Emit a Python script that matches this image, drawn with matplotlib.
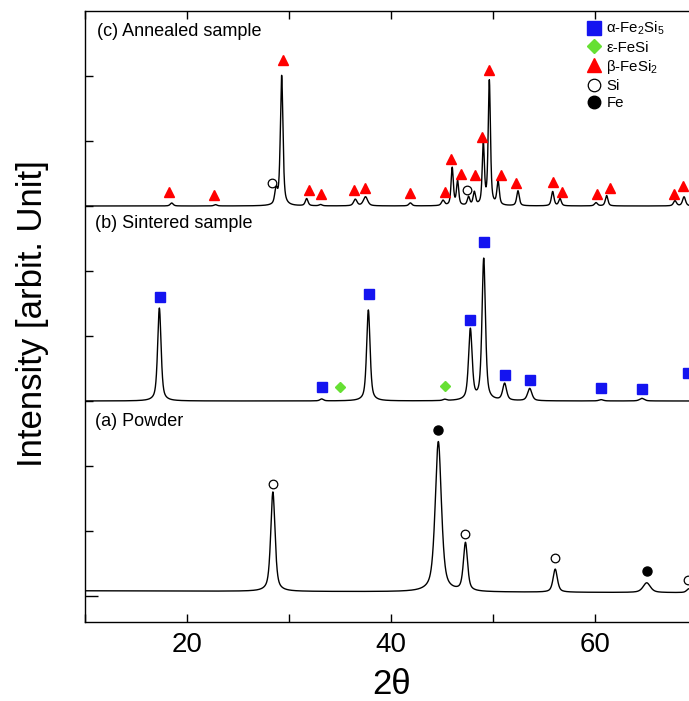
import numpy as np
import matplotlib
matplotlib.use("Agg")
import matplotlib.pyplot as plt
from matplotlib.lines import Line2D

plt.rcParams['font.family'] = ['Liberation Sans', 'DejaVu Sans']
plt.rcParams['mathtext.fontset'] = 'custom'
plt.rcParams['mathtext.rm'] = 'Liberation Sans'
plt.rcParams['mathtext.it'] = 'Liberation Sans'

# ---------------- data (peak tables) ----------------
# (a) Powder
powder_pos = [28.42, 44.64, 47.30, 56.10, 65.07, 69.20]
powder_h = [1.53, 2.31, 0.74, 0.355, 0.15, 0.06]
powder_w = [0.50, 0.72, 0.48, 0.50, 0.85, 0.50]
powder_base = [0.08, 0.05]          # baseline level at left / right
powder_offset = 0.0

# (b) Sintered sample
sint_pos = [17.29, 33.20, 37.78, 45.26, 47.78, 49.09, 51.14, 53.60, 60.60, 64.60]
sint_h = [1.43, 0.03, 1.40, 0.02, 1.09, 2.18, 0.26, 0.19, 0.02, 0.04]
sint_w = [0.40, 0.40, 0.40, 0.40, 0.42, 0.40, 0.45, 0.50, 0.50, 0.55]
sint_offset = 3.0

# (c) Annealed sample
ann_pos = [18.50, 22.80, 28.73, 29.28, 31.73, 33.10, 36.50, 37.50, 41.90, 45.10,
           46.00, 46.53, 47.60, 48.17, 49.05, 49.64, 50.50, 52.45, 55.85, 56.57,
           60.10, 61.14, 67.84, 68.73]
ann_h = [0.046, 0.02, 0.235, 2.00, 0.11, 0.02, 0.10, 0.14, 0.046, 0.08,
         0.58, 0.37, 0.13, 0.20, 0.94, 1.91, 0.36, 0.23, 0.22, 0.11,
         0.05, 0.16, 0.08, 0.14]
ann_w = [0.35, 0.35, 0.30, 0.30, 0.32, 0.35, 0.40, 0.50, 0.35, 0.35,
         0.26, 0.26, 0.28, 0.28, 0.25, 0.26, 0.28, 0.30, 0.30, 0.30,
         0.35, 0.30, 0.35, 0.35]
ann_offset = 6.0

# phase markers (2theta, intensity level)
fe2si5_x = [17.35, 33.2, 37.8, 47.78, 49.09, 51.14, 53.6, 60.6, 64.6, 69.1]
fe2si5_y = [4.60, 3.22, 4.64, 4.25, 5.44, 3.40, 3.32, 3.20, 3.19, 3.43]
fesi_x = [35.0, 45.26]
fesi_y = [3.215, 3.23]
fesi2_x = [18.24, 22.62, 29.37, 31.96, 33.1, 36.37, 37.48, 41.9, 45.26, 45.9,
           46.83, 48.2, 48.92, 49.6, 50.75, 52.28, 55.9, 56.8, 60.16, 61.47,
           67.75, 68.66]
fesi2_y = [6.22, 6.17, 8.24, 6.24, 6.18, 6.24, 6.28, 6.20, 6.22, 6.73,
           6.49, 6.47, 7.06, 8.09, 6.48, 6.35, 6.37, 6.21, 6.18, 6.28,
           6.18, 6.31]
si_x = [28.36, 47.5, 28.4, 47.3, 56.1, 69.1]
si_y = [6.36, 6.25, 1.72, 0.95, 0.59, 0.25]
fe_x = [44.6, 65.07]
fe_y = [2.55, 0.385]

labels = ['α-Fe$_2$Si$_5$', 'ε-FeSi', 'β-FeSi$_2$', 'Si', 'Fe']
panel_titles = ['(c) Annealed sample', '(b) Sintered sample', '(a) Powder']

x_ticks_major = [20, 40, 60]
x_ticks_minor = [10, 30, 50, 70]

# ---------------- helpers ----------------
tt = np.linspace(10, 70, 6001)


def profile(pos, h, w, eta=0.6):
    y = np.zeros_like(tt)
    for p, a, fw in zip(pos, h, w):
        hw = fw / 2.0
        lor = 1.0 / (1.0 + ((tt - p) / hw) ** 2)
        gau = np.exp(-np.log(2) * ((tt - p) / hw) ** 2)
        y += a * (eta * lor + (1 - eta) * gau)
    return y


W, H = 689, 701
fig = plt.figure(figsize=(W / 100, H / 100), dpi=100)
ax = fig.add_axes([85 / W, (H - 622) / H, (697 - 85) / W, (622 - 11) / H])

blue = '#1414f0'
green = '#66e033'
red = '#ff0000'

base_a = np.interp(tt, [10, 70], powder_base)
ax.plot(tt, powder_offset + base_a + profile(powder_pos, powder_h, powder_w),
        color='black', lw=1.0)
ax.plot(tt, sint_offset + profile(sint_pos, sint_h, sint_w), color='black', lw=1.0)
ax.plot(tt, ann_offset + profile(ann_pos, ann_h, ann_w), color='black', lw=1.0)

ax.plot(fe2si5_x, fe2si5_y, ls='none', marker='s', ms=6.8, mfc=blue, mec=blue, clip_on=False)
ax.plot(fesi_x, fesi_y, ls='none', marker='D', ms=5.2, mfc=green, mec=green)
ax.plot(fesi2_x, fesi2_y, ls='none', marker='^', ms=7, mfc=red, mec=red, clip_on=False)
ax.plot(si_x, si_y, ls='none', marker='o', ms=6.2, mfc='white', mec='black', mew=0.9)
ax.plot(fe_x, fe_y, ls='none', marker='o', ms=6.5, mfc='black', mec='black')

ax.set_xlim(10, 70)
ax.set_ylim(-0.4, 9.0)
ax.set_xticks(x_ticks_major)
ax.set_xticks(x_ticks_minor, minor=True)
ax.set_yticks(range(1, 9))
ax.set_yticks([0], minor=True)
ax.set_yticklabels([])
ax.tick_params(axis='x', which='both', direction='in', top=True, length=5.8, width=1.0,
               labelsize=20, pad=7.5)
ax.tick_params(axis='y', which='major', direction='in', length=5.8, width=1.0)
ax.tick_params(axis='y', which='minor', direction='in', length=9, width=1.0)
for s in ax.spines.values():
    s.set_linewidth(1.0)

fig.text(97 / W, 1 - 31 / H, panel_titles[0], fontsize=13, ha='left', va='center')
fig.text(95 / W, 1 - 223 / H, panel_titles[1], fontsize=13, ha='left', va='center')
fig.text(95 / W, 1 - 421 / H, panel_titles[2], fontsize=13, ha='left', va='center')

fig.text(33 / W, 1 - 314 / H, 'Intensity [arbit. Unit]', fontsize=25, rotation=90,
         ha='center', va='center')
fig.text(392 / W, 1 - 684 / H, '2θ', fontsize=25, ha='center', va='center')

handles = [
    Line2D([], [], ls='none', marker='s', ms=9.5, mfc=blue, mec=blue),
    Line2D([], [], ls='none', marker='D', ms=7.5, mfc=green, mec=green),
    Line2D([], [], ls='none', marker='^', ms=10, mfc=red, mec=red),
    Line2D([], [], ls='none', marker='o', ms=9, mfc='white', mec='black', mew=0.9),
    Line2D([], [], ls='none', marker='o', ms=9, mfc='black', mec='black'),
]
fig.legend(handles, labels, loc='upper left', bbox_to_anchor=(586.5 / W, 1 - 20 / H),
           frameon=False, fontsize=10.8, handlelength=1.0, handletextpad=0.32,
           labelspacing=0.21, borderpad=0, borderaxespad=0)

fig.savefig('out.png', dpi=100)
